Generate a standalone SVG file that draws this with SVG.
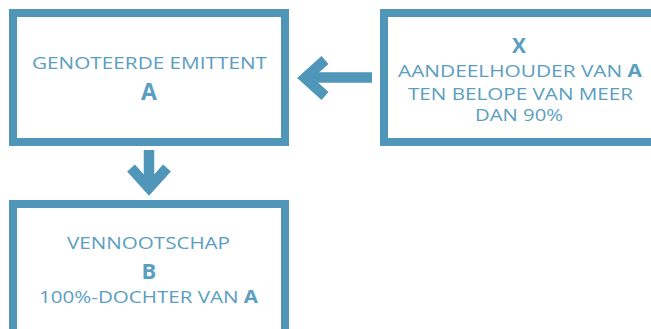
<svg xmlns="http://www.w3.org/2000/svg" width="651" height="329" viewBox="0 0 651 329">
<style>
.box{fill:#ffffff;stroke:#5096b8;stroke-width:8}
.t{font-family:"Open Sans",Lato,"Liberation Sans",sans-serif;fill:#5a9ec1;text-anchor:middle;font-size:17px;font-weight:400}
.b{font-weight:bold}
.arr{fill:none;stroke:#5096b8;stroke-width:10.5;stroke-linejoin:miter;stroke-miterlimit:10}
</style>
<rect width="651" height="329" fill="#ffffff"/>
<g id="nodeA">
<rect class="box" x="13" y="13" width="272" height="129"/>
<text class="t" x="149.5" y="69" textLength="235" lengthAdjust="spacingAndGlyphs">GENOTEERDE EMITTENT</text>
<text class="t b" x="149" y="100" style="font-size:23px">A</text>
</g>
<g id="nodeX">
<rect class="box" x="384" y="13" width="290" height="129"/>
<text class="t b" x="519" y="53" style="font-size:21px">X</text>
<text class="t" x="520" y="77" textLength="244" lengthAdjust="spacingAndGlyphs">AANDEELHOUDER VAN <tspan class="b">A</tspan></text>
<text class="t" x="520.5" y="100" textLength="225" lengthAdjust="spacingAndGlyphs">TEN BELOPE VAN MEER</text>
<text class="t" x="519" y="121" textLength="88" lengthAdjust="spacingAndGlyphs">DAN 90%</text>
</g>
<g id="nodeB">
<rect class="box" x="13" y="204" width="272" height="150"/>
<text class="t" x="148.5" y="249" textLength="163" lengthAdjust="spacingAndGlyphs">VENNOOTSCHAP</text>
<text class="t b" x="149" y="279" style="font-size:22px">B</text>
<text class="t" x="148.5" y="303" textLength="219" lengthAdjust="spacingAndGlyphs">100%-DOCHTER VAN <tspan class="b">A</tspan></text>
</g>
<g id="connectors">
<line class="arr" x1="372" y1="77.5" x2="308" y2="77.5"/>
<polyline class="arr" points="325,60 305,78 325,96"/>
<line class="arr" x1="149" y1="150" x2="149" y2="186"/>
<polyline class="arr" points="131,168 149,188 167,168"/>
</g>
</svg>
